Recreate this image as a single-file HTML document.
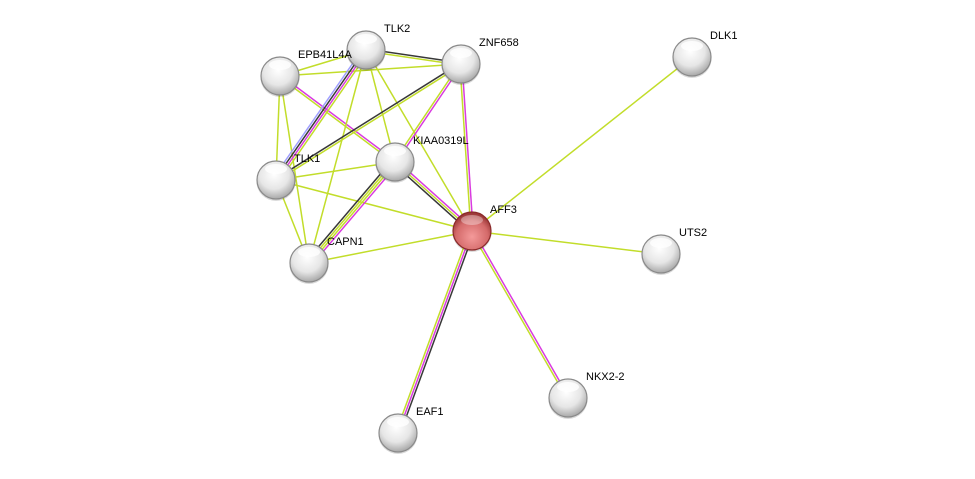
<!DOCTYPE html>
<html><head><meta charset="utf-8">
<style>
html,body{margin:0;padding:0;background:#fff;}
svg{display:block;}
text{font-family:"Liberation Sans",sans-serif;font-size:11px;fill:#000;}
</style></head>
<body>
<svg id="s" width="975" height="479" viewBox="0 0 975 479" xmlns="http://www.w3.org/2000/svg">
<defs>
<radialGradient id="g" cx="45%" cy="35%" r="65%">
<stop offset="0" stop-color="#ffffff"/><stop offset="0.6" stop-color="#e6e6e6"/><stop offset="1" stop-color="#a8a8a8"/>
</radialGradient>
<radialGradient id="r" cx="50%" cy="65%" r="60%">
<stop offset="0" stop-color="#f49a9a"/><stop offset="0.7" stop-color="#d46a6a"/><stop offset="1" stop-color="#9c3838"/>
</radialGradient>
</defs>
<g id="edges"></g>
<g id="nodes"></g>
</svg>
<script>
var N={
TLK2:[366,50],EPB:[280,76],ZNF:[461,64],DLK1:[692,57],KIAA:[395,162],TLK1:[276,180],
AFF3:[472,231],UTS2:[661,254],CAPN1:[309,263],NKX:[568,398],EAF1:[398,433]};
var G="#c2dd2a",M="#d93be0",K="#383838",B="#9f9fff";
var E=[
["EPB","TLK2",[G]],["EPB","ZNF",[G]],["EPB","TLK1",[G]],["EPB","CAPN1",[G]],
["EPB","KIAA",[M,G]],["TLK2","ZNF",[K,G]],["TLK2","TLK1",[G,M,K,B]],
["TLK2","KIAA",[G]],["TLK2","CAPN1",[G]],["TLK2","AFF3",[G]],
["ZNF","TLK1",[G,K]],["ZNF","KIAA",[M,G]],["ZNF","AFF3",[M,G]],
["TLK1","KIAA",[G]],["TLK1","AFF3",[G]],["TLK1","CAPN1",[G]],
["KIAA","CAPN1",[M,G,G,K]],["KIAA","AFF3",[M,G,K]],["CAPN1","AFF3",[G]],
["AFF3","DLK1",[G]],["AFF3","UTS2",[G]],["AFF3","NKX",[M,G]],["AFF3","EAF1",[K,M,G]]];
var ns="http://www.w3.org/2000/svg",eg=document.getElementById("edges"),ng=document.getElementById("nodes");
E.forEach(function(e){var a=N[e[0]],b=N[e[1]],dx=b[0]-a[0],dy=b[1]-a[1],L=Math.hypot(dx,dy),px=-dy/L,py=dx/L,n=e[2].length;
e[2].forEach(function(c,i){var o=(i-(n-1)/2)*2.2;var l=document.createElementNS(ns,"line");
l.setAttribute("x1",a[0]+px*o);l.setAttribute("y1",a[1]+py*o);l.setAttribute("x2",b[0]+px*o);l.setAttribute("y2",b[1]+py*o);
l.setAttribute("stroke",c);l.setAttribute("stroke-width","1.5");eg.appendChild(l);});});
var lab={TLK2:"TLK2",EPB:"EPB41L4A",ZNF:"ZNF658",DLK1:"DLK1",KIAA:"KIAA0319L",TLK1:"TLK1",AFF3:"AFF3",UTS2:"UTS2",CAPN1:"CAPN1",NKX:"NKX2-2",EAF1:"EAF1"};
for(var k in N){var p=N[k];
var c=document.createElementNS(ns,"circle");c.setAttribute("cx",p[0]);c.setAttribute("cy",p[1]+1.5);c.setAttribute("r",19.5);c.setAttribute("fill","#000");c.setAttribute("opacity","0.15");ng.appendChild(c);
c=document.createElementNS(ns,"circle");c.setAttribute("cx",p[0]);c.setAttribute("cy",p[1]);c.setAttribute("r",19);
c.setAttribute("fill",k=="AFF3"?"url(#r)":"url(#g)");c.setAttribute("stroke",k=="AFF3"?"#8a2a2a":"#8a8a8a");c.setAttribute("stroke-width","1.2");ng.appendChild(c);
var h=document.createElementNS(ns,"ellipse");h.setAttribute("cx",p[0]);h.setAttribute("cy",p[1]-11);h.setAttribute("rx",11);h.setAttribute("ry",5);h.setAttribute("fill","#fff");h.setAttribute("opacity",k=="AFF3"?"0.35":"0.8");ng.appendChild(h);
var t=document.createElementNS(ns,"text");t.setAttribute("x",p[0]+18);t.setAttribute("y",p[1]-18);t.textContent=lab[k];ng.appendChild(t);}
</script>
</body></html>
